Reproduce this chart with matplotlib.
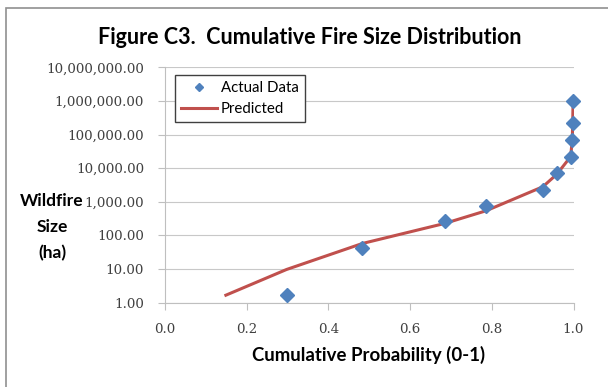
import numpy as np
import matplotlib.pyplot as plt
from matplotlib.ticker import FixedLocator, FuncFormatter, NullLocator

# Observed cumulative fire size distribution
actual_prob = [0.2975, 0.483, 0.685, 0.786, 0.925, 0.959, 0.993, 0.997, 0.998, 0.999]
actual_size = [1.65, 42.4, 270, 742, 2220, 7000, 21900, 69000, 216000, 1000000]

# Fitted curve
pred_prob = [0.149, 0.2975, 0.483, 0.685, 0.786, 0.925, 0.959, 0.993, 0.997, 0.998, 0.999]
pred_size = [1.65, 9.6, 57, 226, 537, 2790, 6530, 21900, 69000, 216000, 1000000]

y_ticks = [1, 10, 100, 1e3, 1e4, 1e5, 1e6, 1e7]
x_ticks = [0.0, 0.2, 0.4, 0.6, 0.8, 1.0]

fig = plt.figure(figsize=(6.08, 3.87), dpi=100)
ax = fig.add_axes([165 / 608, 1 - 302.5 / 387, 408.5 / 608, (302.5 - 67.3) / 387])

ax.plot(pred_prob, pred_size, color='#C0504D', lw=2.2, zorder=2, label='Predicted')
ax.plot(actual_prob, actual_size, ls='none', marker='D', ms=7, color='#4F81BD',
        zorder=3, label='Actual Data', clip_on=False)

ax.set_yscale('log')
ax.set_xlim(0, 1)
ax.set_ylim(1, 1e7)
ax.yaxis.set_major_locator(FixedLocator(y_ticks))
ax.yaxis.set_minor_locator(NullLocator())
ax.yaxis.set_major_formatter(FuncFormatter(lambda v, p: f'{v:,.2f}'))
ax.set_xticks(x_ticks)
ax.xaxis.set_major_formatter(FuncFormatter(lambda v, p: f'{v:.1f}'))

ax.grid(axis='y', color='#C8C8C8', lw=0.8)
for s in ['top', 'right']:
    ax.spines[s].set_visible(False)
for s in ['left', 'bottom']:
    ax.spines[s].set_color('#BFBFBF')
ax.tick_params(axis='both', colors='#BFBFBF', length=5, labelcolor='#404040',
               labelsize=9.6)
ax.tick_params(axis='y', pad=10)
ax.tick_params(axis='x', pad=10)
for lab in ax.get_xticklabels() + ax.get_yticklabels():
    lab.set_family('DejaVu Serif')

handles, labels = ax.get_legend_handles_labels()
leg = ax.legend(handles[::-1], labels[::-1], loc='upper left',
                bbox_to_anchor=(10 / 408.5, 1 - 7.5 / 235.2),
                borderaxespad=0, fancybox=False, edgecolor='#404040', framealpha=1,
                prop={'family': 'Lato', 'size': 10.8}, handlelength=2.4,
                borderpad=0.4, labelspacing=0.5, handletextpad=0.25,
                markerscale=0.65)
leg.get_frame().set_linewidth(1.0)

fig.text(310 / 608, 1 - 38 / 387, 'Figure C3.  Cumulative Fire Size Distribution',
         ha='center', va='center', fontsize=15.5, fontweight='bold', family='Lato')
fig.text(52 / 608, 1 - 227 / 387, 'Wildfire\nSize\n(ha)', ha='center', va='center',
         fontsize=12.5, fontweight='bold', family='Lato', linespacing=1.75)
fig.text(369 / 608, 1 - 355 / 387, 'Cumulative Probability (0-1)', ha='center',
         va='center', fontsize=13.4, fontweight='bold', family='Lato')

# outer chart frame
fig.patches.append(plt.Rectangle((6 / 608, -0.1), 1.2, 1 - 8 / 387 + 0.1,
                                 transform=fig.transFigure, fill=False,
                                 edgecolor='#909090', lw=1.2))

fig.savefig('out.png', dpi=100)
